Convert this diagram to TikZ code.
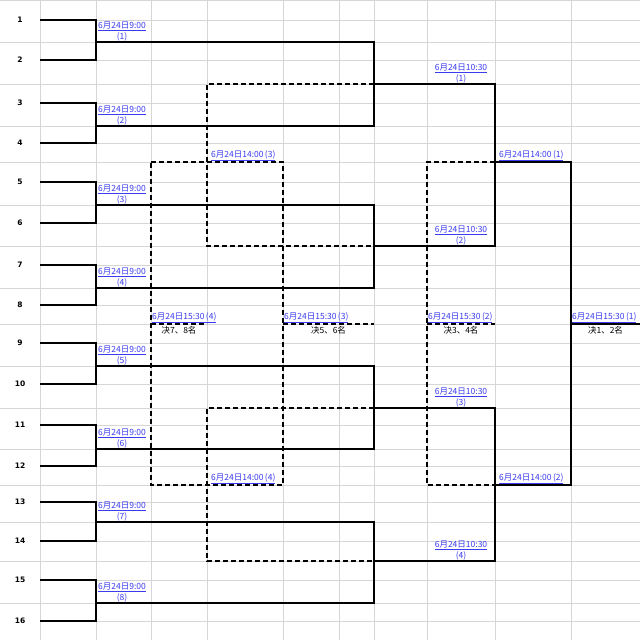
\documentclass[tikz,border=0pt]{standalone}
\usepackage{fontspec}
\setmainfont{Noto Sans CJK SC}
\newfontfamily\numfont{DejaVu Sans}
\usepackage{xcolor}
\usepackage{tikz}
\definecolor{cgrid}{HTML}{D6D6D6}
\definecolor{clink}{HTML}{3B3BF0}

\begin{document}
\begin{tikzpicture}[
  x=1pt, y=-1pt,
  gridl/.style={draw=cgrid, line width=0.8pt},
  wline/.style={draw=black, line width=2.2pt},
  lline/.style={draw=black, line width=1.5pt, dash pattern=on 5pt off 3pt},
  num/.style={font=\numfont\bfseries\fontsize{7.5}{8}\selectfont, inner sep=0pt},
  lnk/.style={font=\fontsize{8.5}{9.5}\selectfont, text=clink, inner sep=1pt, align=center},
  rank/.style={font=\fontsize{8.5}{9.5}\selectfont, inner sep=2pt}
]
\useasboundingbox[fill=white] (0,0) rectangle (640,640);

% Sheet grid
\foreach \x in {40,96,151,207,283,339,374,427,495,571}
  \draw[gridl] (\x,0) -- (\x,640);
\foreach \y in {0,42,84,126,162,205,246,288,324,366,408,449,485,522,561,603}
  \draw[gridl] (0,\y) -- (640,\y);
\foreach \y in {20,60,103,143,182,223,265,305,343,384,425,466,502,541,580,621}
  \draw[gridl] (40,\y) -- (640,\y);

% Players
\foreach \y [count=\i] in {20,60,103,143,182,223,265,305,343,384,425,466,502,541,580,621} {
  \coordinate (p\i) at (40,\y);
  \node[num] (n\i) at (20,\y) {\i};
}

% Junctions
\foreach \y [count=\k] in {42,126,205,288,366,449,522,603}
  \coordinate (r\k) at (96,\y);
\foreach \y [count=\k] in {84,246,408,561}
  \coordinate (q\k) at (374,\y);
\coordinate (s1) at (495,162);
\coordinate (s2) at (495,485);
\coordinate (f) at (571,324);
\coordinate (w) at (640,324);
\coordinate (c1) at (207,162);
\coordinate (c2) at (207,485);
\coordinate (d1) at (151,162);
\coordinate (d2) at (151,485);
\coordinate (e1) at (283,162);
\coordinate (e2) at (283,485);
\coordinate (g78) at (151,324);
\coordinate (h78) at (207,324);
\coordinate (g56) at (283,324);
\coordinate (h56) at (374,324);
\coordinate (g34) at (427,324);
\coordinate (h34) at (495,324);

% Round 1
\foreach \k in {1,...,8} {
  \pgfmathtruncatemacro\a{2*\k-1}
  \pgfmathtruncatemacro\b{2*\k}
  \draw[wline] (p\a) -| (r\k) |- (p\b);
  \node[lnk, anchor=south west] (t\k) at ([xshift=1pt]r\k) {\underline{6月24日9:00}\\(\k)};
}

% Quarter finals
\foreach \k in {1,...,4} {
  \pgfmathtruncatemacro\a{2*\k-1}
  \pgfmathtruncatemacro\b{2*\k}
  \draw[wline] (r\a) -| (q\k) |- (r\b);
  \node[lnk, anchor=south] (u\k) at ([xshift=87pt]q\k) {\underline{6月24日10:30}\\(\k)};
}

% Semi finals and final
\draw[wline] (q1) -| (s1) |- (q2);
\draw[wline] (q3) -| (s2) |- (q4);
\draw[wline] (s1) -| (f) |- (s2);
\draw[wline] (f) -- (w);
\node[lnk, anchor=south west] (v1) at ([xshift=3pt]s1) {\underline{6月24日14:00\,(1)}};
\node[lnk, anchor=south west] (v2) at ([xshift=3pt]s2) {\underline{6月24日14:00\,(2)}};

% Placement matches
\draw[lline] (q1) -| (c1) |- (q2);
\draw[lline] (q3) -| (c2) |- (q4);
\draw[lline] (d1) -- (e1) -- (e2) -- (d2) -- cycle;
\draw[lline] (s1) -| (g34) |- (s2);
\draw[lline] (g78) -- (h78);
\draw[lline] (g56) -- (h56);
\draw[lline] (g34) -- (h34);
\node[lnk, anchor=south west] (v3) at ([xshift=3pt]c1) {\underline{6月24日14:00\,(3)}};
\node[lnk, anchor=south west] (v4) at ([xshift=3pt]c2) {\underline{6月24日14:00\,(4)}};

% Ranking labels
\node[lnk, anchor=south west] (z1) at (f) {\underline{6月24日15:30\,(1)}};
\node[lnk, anchor=south west] (z2) at (g34) {\underline{6月24日15:30\,(2)}};
\node[lnk, anchor=south west] (z3) at (g56) {\underline{6月24日15:30\,(3)}};
\node[lnk, anchor=south west] (z4) at (g78) {\underline{6月24日15:30\,(4)}};
\node[rank, anchor=north] (k1) at ([xshift=34.5pt]f) {决1、2名};
\node[rank, anchor=north] (k2) at ([xshift=34pt]g34) {决3、4名};
\node[rank, anchor=north] (k3) at ([xshift=45.5pt]g56) {决5、6名};
\node[rank, anchor=north] (k4) at ([xshift=28pt]g78) {决7、8名};

\end{tikzpicture}
\end{document}
